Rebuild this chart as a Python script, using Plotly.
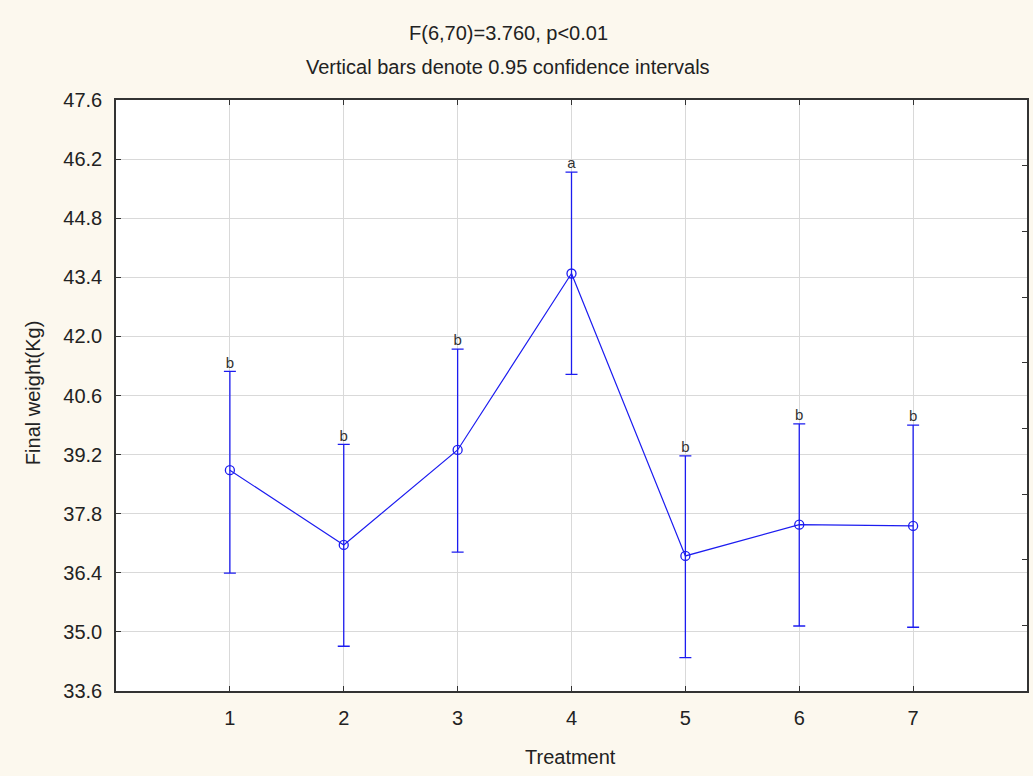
import plotly.graph_objects as go

treatments = [1, 2, 3, 4, 5, 6, 7]
means = [38.83, 37.06, 39.31, 43.49, 36.80, 37.54, 37.51]
upper = [41.17, 39.44, 41.70, 45.89, 39.17, 39.93, 39.90]
lower = [36.39, 34.66, 36.89, 41.10, 34.39, 35.14, 35.11]
letters = ["b", "b", "b", "a", "b", "b", "b"]
y_ticks = [33.6, 35.0, 36.4, 37.8, 39.2, 40.6, 42.0, 43.4, 44.8, 46.2, 47.6]
y_tick_text = ["33.6", "35.0", "36.4", "37.8", "39.2", "40.6", "42.0", "43.4", "44.8", "46.2", "47.6"]
title_lines = ["F(6,70)=3.760, p<0.01", "Vertical bars denote 0.95 confidence intervals"]
x_title = "Treatment"
y_title = "Final weight(Kg)"

err_plus = [u - m for u, m in zip(upper, means)]
err_minus = [m - l for m, l in zip(means, lower)]

blue = "#1c1cf0"
font = "Liberation Sans, Arial, sans-serif"
txt = "#222222"

fig = go.Figure()
fig.add_trace(go.Scatter(
    x=treatments, y=means, mode="lines+markers",
    line=dict(color=blue, width=1.2),
    marker=dict(symbol="circle-open", size=9, color=blue, line=dict(width=1.3, color=blue)),
    error_y=dict(type="data", symmetric=False, array=err_plus, arrayminus=err_minus,
                 color=blue, thickness=1.3, width=6),
    showlegend=False, hoverinfo="skip",
))
fig.add_trace(go.Scatter(
    x=treatments, y=upper, mode="text", text=letters, textposition="top center",
    textfont=dict(family=font, size=15, color="#333333"),
    showlegend=False, hoverinfo="skip",
))
# invisible trace to carry the right-hand tick axis
fig.add_trace(go.Scatter(x=[0], y=[0], yaxis="y2", mode="markers",
                         marker=dict(opacity=0), showlegend=False, hoverinfo="skip"))

annotations = [
    dict(text=title_lines[0], x=0.4303, y=1.1134, xref="paper", yref="paper",
         xanchor="center", yanchor="middle", showarrow=False,
         font=dict(family=font, size=20, color=txt)),
    dict(text=title_lines[1], x=0.4303, y=1.0558, xref="paper", yref="paper",
         xanchor="center", yanchor="middle", showarrow=False,
         font=dict(family=font, size=20, color=txt)),
    dict(text=x_title, x=0.4984, y=-0.1117, xref="paper", yref="paper",
         xanchor="center", yanchor="middle", showarrow=False,
         font=dict(family=font, size=20, color=txt)),
    dict(text=y_title, x=-0.0911, y=0.504, xref="paper", yref="paper",
         xanchor="center", yanchor="middle", showarrow=False, textangle=-90,
         font=dict(family=font, size=20, color=txt)),
]

fig.update_layout(
    width=1033, height=776,
    margin=dict(l=116, r=6, t=100, b=85, autoexpand=False),
    paper_bgcolor="#fcf8ee",
    plot_bgcolor="#ffffff",
    font=dict(family=font, size=20, color=txt),
    annotations=annotations,
    xaxis=dict(
        range=[0, 8], tickvals=treatments, ticktext=[str(t) for t in treatments],
        showgrid=True, gridcolor="#d9d9d9", gridwidth=1,
        showline=True, linecolor="#333333", linewidth=1.5, mirror="ticks",
        ticks="inside", ticklen=5, tickcolor="#333333", tickwidth=1,
        zeroline=False, automargin=False, ticklabelstandoff=8,
        tickfont=dict(family=font, size=20, color=txt),
    ),
    yaxis=dict(
        range=[33.6, 47.6], tickvals=y_ticks, ticktext=y_tick_text,
        showgrid=True, gridcolor="#d9d9d9", gridwidth=1,
        showline=True, linecolor="#333333", linewidth=1.5, mirror=True,
        ticks="inside", ticklen=5, tickcolor="#333333", tickwidth=1,
        zeroline=False, automargin=False, ticklabelstandoff=8,
        tickfont=dict(family=font, size=20, color=txt),
    ),
    yaxis2=dict(
        overlaying="y", side="right", range=[0, 9], tickvals=[1, 2, 3, 4, 5, 6, 7, 8],
        showticklabels=False, showgrid=False, zeroline=False, showline=False,
        ticks="inside", ticklen=5, tickcolor="#333333", tickwidth=1, automargin=False,
    ),
)

fig.write_html(
    "out.html",
    config={"displayModeBar": False},
    post_script="document.body.style.margin='0';document.body.style.overflow='hidden';"
                "document.body.style.background='#fcf8ee';",
)
